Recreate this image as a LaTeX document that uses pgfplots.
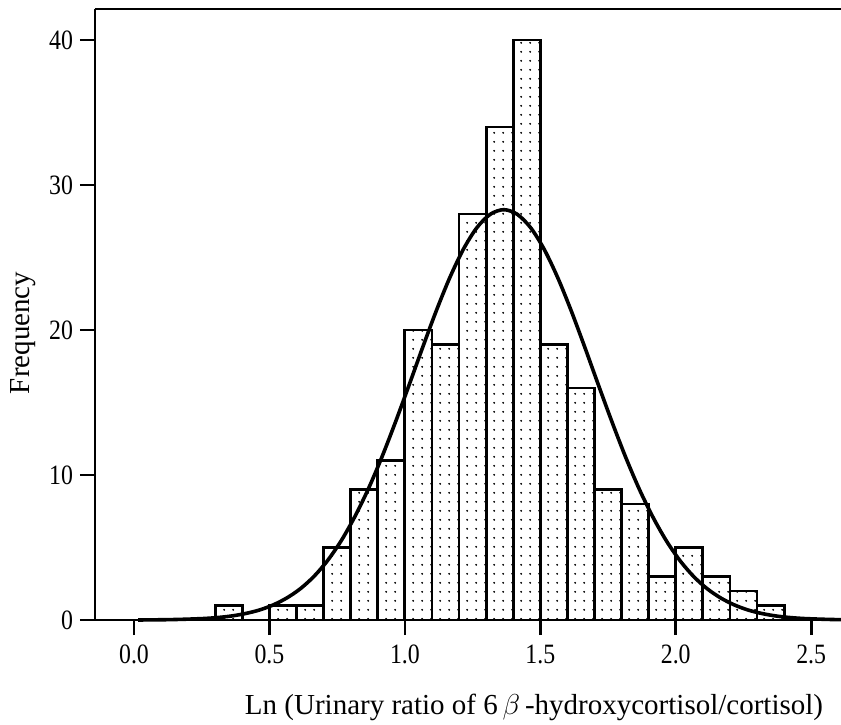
\documentclass[border=0pt]{standalone}
\usepackage{fontspec}
\setmainfont{Liberation Serif}
\newfontfamily\tickfont[FakeStretch=0.85]{Liberation Serif}
\usepackage{pgfplots}
\pgfplotsset{compat=1.18}
\usetikzlibrary{patterns}
\pgfdeclarepatternformonly{sdots}{\pgfpointorigin}{\pgfpoint{4.6pt}{4.6pt}}{\pgfpoint{4.6pt}{4.6pt}}{%
  \pgfpathcircle{\pgfpoint{2.3pt}{2.3pt}}{0.55pt}\pgfusepath{fill}}
\begin{document}
\begin{tikzpicture}
\begin{axis}[
  name=ax,
  scale only axis,
  width=373pt, height=305.5pt,
  xmin=-0.144, xmax=2.61,
  ymin=0, ymax=42.14,
  axis x line=bottom, axis y line=left,
  axis line style={-, line width=1.3pt, black},
  tick align=outside,
  major tick length=7.5pt,
  tick style={line width=1.3pt, black},
  xtick={0,0.5,1,1.5,2,2.5},
  ytick={0,10,20,30,40},
  xticklabel style={/pgf/number format/fixed, /pgf/number format/precision=1, /pgf/number format/fixed zerofill, font=\tickfont\fontsize{14}{16}\selectfont, yshift=-1.5pt},
  yticklabel style={font=\tickfont\fontsize{14}{16}\selectfont},
  /pgf/number format/assume math mode=true,
  xlabel={Ln (Urinary ratio of 6\,$\beta$\,-hydroxycortisol/cortisol)},
  ylabel={Frequency},
  label style={font=\fontsize{14.5}{17}\selectfont},
  xlabel style={at={(ticklabel cs:0.5885)}, anchor=north, yshift=-8pt},
  ylabel style={at={(ticklabel cs:0.47)}, anchor=south},
  clip=false,
]
\addplot[ybar interval, draw=black, line width=1.4pt, pattern=sdots] coordinates {
  (0.3,1) (0.4,0) (0.5,1) (0.6,1) (0.7,5) (0.8,9) (0.9,11) (1.0,20) (1.1,19)
  (1.2,28) (1.3,34) (1.4,40) (1.5,19) (1.6,16) (1.7,9) (1.8,8) (1.9,3)
  (2.0,5) (2.1,3) (2.2,2) (2.3,1) (2.4,1)
};
\addplot[black, line width=1.8pt, smooth, no markers] coordinates {
  (0.015,0.00) (0.065,0.01) (0.115,0.02) (0.165,0.04) (0.215,0.07) (0.265,0.11)
  (0.315,0.18) (0.365,0.29) (0.415,0.46) (0.465,0.70) (0.515,1.05) (0.565,1.53)
  (0.615,2.17) (0.665,3.02) (0.715,4.11) (0.765,5.47) (0.815,7.12) (0.865,9.04)
  (0.915,11.23) (0.965,13.64) (1.015,16.18) (1.065,18.77) (1.115,21.28) (1.165,23.58)
  (1.215,25.54) (1.265,27.04) (1.315,27.98) (1.365,28.30) (1.415,27.98) (1.465,27.04)
  (1.515,25.54) (1.565,23.58) (1.615,21.28) (1.665,18.77) (1.715,16.18) (1.765,13.64)
  (1.815,11.23) (1.865,9.04) (1.915,7.12) (1.965,5.47) (2.015,4.11) (2.065,3.02)
  (2.115,2.17) (2.165,1.53) (2.215,1.05) (2.265,0.70) (2.315,0.46) (2.365,0.29)
  (2.415,0.18) (2.465,0.11) (2.515,0.07) (2.565,0.04) (2.615,0.02)
};
\draw[line width=1.3pt] (rel axis cs:0,1) -- (rel axis cs:1.02,1);
\draw[line width=1.3pt] (rel axis cs:1,0) -- (rel axis cs:1.02,0);
\draw[line width=1.3pt] (rel axis cs:-0.017,0) -- (rel axis cs:0,0);
\end{axis}
\pgfresetboundingbox
\path (ax.south west) ++(-47.5pt,-52pt) coordinate (bl);
\path (ax.north east) ++(0pt,4.5pt) coordinate (tr);
\useasboundingbox (bl) rectangle (tr);
\end{tikzpicture}
\end{document}
